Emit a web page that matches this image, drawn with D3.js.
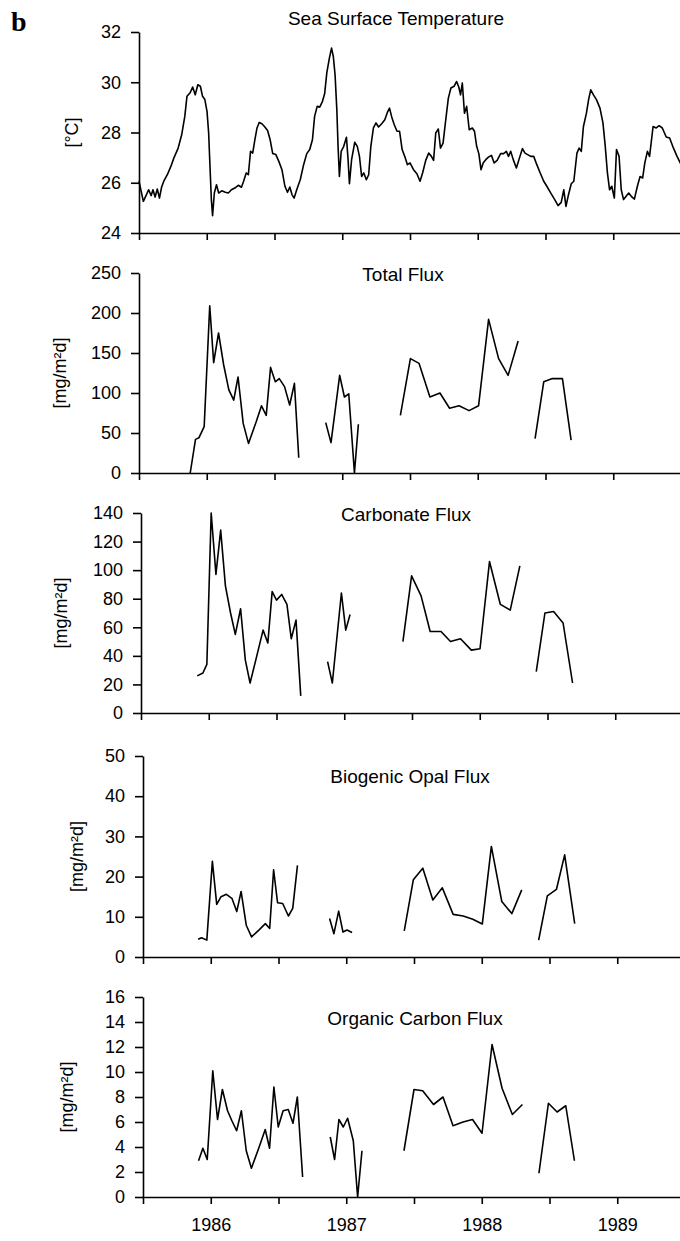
<!DOCTYPE html>
<html lang="en">
<head>
<meta charset="UTF-8">
<script src="https://d3js.org/d3.v7.min.js"></script>
<style>
  body { margin: 0; background: #fff; }
  svg { display: block; font-family: "Liberation Sans", Arial, sans-serif; }
  .axis path, .axis line { stroke: #000; stroke-width: 1.6px; }
  .axis text { font-size: 18px; fill: #000; font-family: "Liberation Sans", Arial, sans-serif; }
  .series { fill: none; stroke: #000; stroke-width: 1.6px; stroke-linejoin: round; }
</style>
</head>
<body>
<svg id="chart" width="680" height="1241"></svg>
<script>
// x ticks every half year, only whole years get a label on the bottom panel
var xTicks = [1985.5, 1986, 1986.5, 1987, 1987.5, 1988, 1988.5, 1989, 1989.5];

// Sea surface temperature (decimal year, deg C)
var sstDate = [1985.500, 1985.532, 1985.555, 1985.571, 1985.590, 1985.603, 1985.619, 1985.635, 1985.651, 1985.667,
  1985.683, 1985.709, 1985.735, 1985.757, 1985.789, 1985.815, 1985.838, 1985.854, 1985.876, 1985.896,
  1985.915, 1985.934, 1985.953, 1985.969, 1985.986, 1986.002, 1986.014, 1986.024, 1986.034, 1986.043,
  1986.056, 1986.072, 1986.088, 1986.111, 1986.137, 1986.159, 1986.182, 1986.207, 1986.233, 1986.256,
  1986.272, 1986.291, 1986.307, 1986.323, 1986.339, 1986.355, 1986.371, 1986.387, 1986.407, 1986.426,
  1986.449, 1986.468, 1986.487, 1986.510, 1986.532, 1986.555, 1986.577, 1986.596, 1986.613, 1986.629,
  1986.645, 1986.664, 1986.690, 1986.715, 1986.738, 1986.760, 1986.780, 1986.796, 1986.815, 1986.834,
  1986.854, 1986.870, 1986.886, 1986.905, 1986.921, 1986.934, 1986.947, 1986.960, 1986.969, 1986.979,
  1986.992, 1987.011, 1987.031, 1987.043, 1987.053, 1987.069, 1987.092, 1987.111, 1987.127, 1987.143,
  1987.159, 1987.178, 1987.195, 1987.211, 1987.230, 1987.249, 1987.268, 1987.291, 1987.314, 1987.333,
  1987.349, 1987.365, 1987.384, 1987.404, 1987.423, 1987.442, 1987.461, 1987.481, 1987.500, 1987.526,
  1987.551, 1987.574, 1987.593, 1987.616, 1987.638, 1987.658, 1987.674, 1987.690, 1987.709, 1987.725,
  1987.744, 1987.764, 1987.783, 1987.802, 1987.825, 1987.844, 1987.860, 1987.873, 1987.886, 1987.902,
  1987.918, 1987.937, 1987.960, 1987.976, 1987.992, 1988.008, 1988.024, 1988.040, 1988.059, 1988.079,
  1988.101, 1988.121, 1988.143, 1988.169, 1988.191, 1988.211, 1988.227, 1988.243, 1988.262, 1988.285,
  1988.304, 1988.330, 1988.349, 1988.368, 1988.391, 1988.413, 1988.436, 1988.461, 1988.487, 1988.510,
  1988.539, 1988.568, 1988.593, 1988.616, 1988.635, 1988.651, 1988.667, 1988.690, 1988.709, 1988.732,
  1988.748, 1988.764, 1988.780, 1988.802, 1988.818, 1988.834, 1988.854, 1988.876, 1988.902, 1988.924,
  1988.941, 1988.957, 1988.973, 1988.989, 1989.008, 1989.024, 1989.043, 1989.059, 1989.076, 1989.095,
  1989.114, 1989.133, 1989.156, 1989.178, 1989.198, 1989.217, 1989.233, 1989.252, 1989.268, 1989.294,
  1989.317, 1989.339, 1989.362, 1989.391, 1989.416, 1989.439, 1989.471, 1989.513];
var sstTemp = [26.06, 25.26, 25.53, 25.72, 25.49, 25.72, 25.43, 25.75, 25.39, 25.83,
  26.06, 26.32, 26.65, 26.98, 27.38, 27.91, 28.64, 29.44, 29.57, 29.81,
  29.50, 29.90, 29.84, 29.44, 29.31, 28.84, 27.98, 26.65, 25.33, 24.69,
  25.59, 25.92, 25.59, 25.68, 25.62, 25.59, 25.72, 25.79, 25.90, 25.82,
  26.06, 26.39, 26.32, 27.25, 27.18, 27.71, 28.18, 28.40, 28.35, 28.24,
  28.08, 27.71, 27.16, 27.12, 26.85, 26.52, 25.86, 25.62, 25.83, 25.53,
  25.39, 25.72, 26.12, 26.72, 27.16, 27.32, 27.71, 28.64, 29.04, 29.01,
  29.24, 29.54, 30.37, 30.96, 31.36, 31.03, 30.30, 28.91, 27.45, 26.25,
  27.25, 27.45, 27.81, 26.92, 25.96, 26.92, 27.61, 27.45, 27.05, 26.25,
  26.39, 26.12, 26.32, 27.45, 28.18, 28.38, 28.22, 28.35, 28.51, 28.80,
  28.97, 28.62, 28.31, 28.05, 28.05, 27.32, 27.05, 26.72, 26.79, 26.52,
  26.36, 26.06, 26.39, 26.89, 27.18, 27.05, 26.89, 27.98, 28.14, 27.38,
  27.58, 28.51, 29.37, 29.77, 29.84, 30.03, 29.81, 29.50, 29.97, 28.77,
  29.04, 28.11, 28.18, 28.05, 27.45, 27.16, 26.52, 26.79, 26.92, 27.02,
  27.09, 26.79, 26.89, 27.16, 27.16, 27.25, 27.05, 27.25, 26.92, 26.59,
  26.92, 27.36, 27.18, 27.12, 27.05, 27.05, 26.72, 26.39, 26.06, 25.86,
  25.59, 25.33, 25.09, 25.22, 25.72, 25.06, 25.46, 25.96, 26.06, 27.18,
  27.38, 27.25, 28.24, 28.77, 29.31, 29.70, 29.50, 29.31, 28.97, 28.38,
  27.45, 26.39, 25.72, 25.86, 25.39, 27.32, 27.05, 25.72, 25.33, 25.46,
  25.59, 25.46, 25.35, 25.86, 26.25, 26.19, 26.79, 27.25, 27.05, 28.24,
  28.18, 28.27, 28.18, 27.82, 27.78, 27.45, 27.05, 26.59];

// sediment trap samples, null = gap between deployments (mg/m2d)
var totalDate = [1985.878, 1985.917, 1985.942, 1985.981, 1986.022, 1986.051, 1986.087, 1986.125, 1986.163, 1986.199,
  1986.231, 1986.269, 1986.308, 1986.365, 1986.404, 1986.439, 1986.471, 1986.506, 1986.535, 1986.574,
  1986.612, 1986.647, 1986.679, null, 1986.878, 1986.917, 1986.981, 1987.016, 1987.048, 1987.090,
  1987.119, null, 1987.429, 1987.503, 1987.567, 1987.647, 1987.721, 1987.792, 1987.862, 1987.936,
  1988.006, 1988.080, 1988.154, 1988.224, 1988.298, null, 1988.423, 1988.487, 1988.551, 1988.625, 1988.689];
var totalFlux = [0, 42, 44, 58, 209, 138, 175, 135, 104, 91,
  120, 62, 37, 64, 84, 72, 132, 114, 118, 108,
  85, 112, 19, null, 63, 38, 122, 95, 99, 0,
  61, null, 72, 143, 137, 95, 100, 81, 84, 78,
  84, 192, 143, 122, 165, null, 43, 114, 118, 118, 41];

var carbDate = [1985.915, 1985.957, 1985.986, 1986.018, 1986.053, 1986.088, 1986.123, 1986.161, 1986.196, 1986.235,
  1986.270, 1986.305, 1986.347, 1986.401, 1986.436, 1986.468, 1986.500, 1986.538, 1986.577, 1986.609,
  1986.644, 1986.679, null, 1986.877, 1986.912, 1986.979, 1987.011, 1987.043, null, 1987.433,
  1987.497, 1987.567, 1987.634, 1987.714, 1987.784, 1987.858, 1987.938, 1988.002, 1988.072, 1988.152,
  1988.225, 1988.296, null, 1988.417, 1988.481, 1988.545, 1988.615, 1988.685];
var carbFlux = [26, 28, 34, 140, 97, 128, 89, 70, 55, 73,
  37, 21, 37, 58, 49, 85, 79, 83, 76, 52,
  65, 12, null, 36, 21, 84, 58, 69, null, 50,
  96, 82, 57, 57, 50, 52, 44, 45, 106, 76,
  72, 103, null, 29, 70, 71, 63, 21];

var opalDate = [1985.907, 1985.932, 1985.971, 1986.012, 1986.044, 1986.076, 1986.115, 1986.156, 1986.192, 1986.224,
  1986.262, 1986.301, 1986.355, 1986.403, 1986.435, 1986.464, 1986.493, 1986.531, 1986.573, 1986.605,
  1986.640, null, 1986.877, 1986.909, 1986.944, 1986.976, 1987.005, 1987.043, null, 1987.428,
  1987.495, 1987.565, 1987.639, 1987.709, 1987.789, 1987.863, 1987.934, 1988.004, 1988.071, 1988.148,
  1988.222, 1988.295, null, 1988.420, 1988.484, 1988.551, 1988.612, 1988.686];
var opalFlux = [4.4, 4.8, 4.2, 23.8, 13.1, 15.0, 15.6, 14.6, 11.3, 16.3,
  7.9, 5.0, 6.7, 8.3, 7.1, 21.7, 13.5, 13.3, 10.2, 12.1,
  22.8, null, 9.6, 5.8, 11.4, 6.2, 6.7, 6.1, null, 6.5,
  19.2, 22.1, 14.2, 17.2, 10.6, 10.2, 9.4, 8.2, 27.5, 13.8,
  10.8, 16.7, null, 4.2, 15.2, 16.8, 25.4, 8.3];

var orgDate = [1985.910, 1985.942, 1985.974, 1986.015, 1986.050, 1986.086, 1986.124, 1986.156, 1986.191, 1986.226,
  1986.262, 1986.300, 1986.354, 1986.402, 1986.434, 1986.466, 1986.498, 1986.534, 1986.572, 1986.607,
  1986.639, 1986.678, null, 1986.882, 1986.914, 1986.946, 1986.978, 1987.010, 1987.052, 1987.084,
  1987.116, null, 1987.426, 1987.500, 1987.564, 1987.644, 1987.714, 1987.788, 1987.862, 1987.932,
  1988.002, 1988.076, 1988.150, 1988.226, 1988.300, null, 1988.422, 1988.492, 1988.556, 1988.620, 1988.684];
var orgFlux = [2.9, 3.9, 3.0, 10.1, 6.2, 8.6, 6.9, 6.1, 5.3, 6.9,
  3.7, 2.3, 3.9, 5.4, 3.9, 8.8, 5.6, 6.9, 7.0, 5.9,
  8.0, 1.6, null, 4.8, 3.0, 6.2, 5.6, 6.3, 4.5, 0,
  3.7, null, 3.7, 8.6, 8.5, 7.4, 8.0, 5.7, 6.0, 6.2,
  5.1, 12.2, 8.7, 6.6, 7.4, null, 1.9, 7.5, 6.8, 7.3, 2.9];

var titles = ["Sea Surface Temperature", "Total Flux", "Carbonate Flux", "Biogenic Opal Flux", "Organic Carbon Flux"];
var units = ["[°C]", "[mg/m²d]", "[mg/m²d]", "[mg/m²d]", "[mg/m²d]"];
var yTicks = [
  [24, 26, 28, 30, 32],
  [0, 50, 100, 150, 200, 250],
  [0, 20, 40, 60, 80, 100, 120, 140],
  [0, 10, 20, 30, 40, 50],
  [0, 2, 4, 6, 8, 10, 12, 14, 16]
];

// layout of each panel (pixels)
var panels = [
  { dates: sstDate,   vals: sstTemp,   top: 32,  bottom: 233,  left: 139, labelX: 72, titleX: 396, titleY: 25 },
  { dates: totalDate, vals: totalFlux, top: 273, bottom: 473,  left: 139, labelX: 60, titleX: 403, titleY: 281 },
  { dates: carbDate,  vals: carbFlux,  top: 513, bottom: 713,  left: 141, labelX: 61, titleX: 406, titleY: 521 },
  { dates: opalDate,  vals: opalFlux,  top: 756, bottom: 957,  left: 143, labelX: 77, titleX: 410, titleY: 783 },
  { dates: orgDate,   vals: orgFlux,   top: 997, bottom: 1197, left: 143, labelX: 67, titleX: 415, titleY: 1025 }
];

var svg = d3.select("#chart");

// panel letter
svg.append("text")
  .attr("x", 11)
  .attr("y", 31)
  .style("font-family", "'Liberation Serif', 'Times New Roman', serif")
  .style("font-weight", "bold")
  .style("font-size", "28px")
  .text("b");

panels.forEach(function(p, i) {
  var ticks = yTicks[i];
  var x = d3.scaleLinear()
    .domain([xTicks[0], xTicks[xTicks.length - 1]])
    .range([p.left, p.left + 542]);
  var y = d3.scaleLinear()
    .domain([ticks[0], ticks[ticks.length - 1]])
    .range([p.bottom, p.top]);

  var last = i === panels.length - 1;

  // x axis
  svg.append("g")
    .attr("class", "axis")
    .attr("transform", "translate(0," + p.bottom + ")")
    .call(d3.axisBottom(x)
      .tickValues(xTicks)
      .tickSize(7)
      .tickSizeOuter(0)
      .tickPadding(14)
      .tickFormat(function(d) { return last && Number.isInteger(d) ? String(d) : ""; }));

  // y axis
  svg.append("g")
    .attr("class", "axis")
    .attr("transform", "translate(" + p.left + ",0)")
    .call(d3.axisLeft(y)
      .tickValues(ticks)
      .tickSize(8)
      .tickSizeOuter(0)
      .tickPadding(10));

  // unit label
  svg.append("text")
    .attr("transform", "translate(" + p.labelX + "," + ((p.top + p.bottom) / 2) + ") rotate(-90)")
    .attr("text-anchor", "middle")
    .attr("dominant-baseline", "central")
    .style("font-size", "18px")
    .text(units[i]);

  // panel title
  svg.append("text")
    .attr("x", p.titleX)
    .attr("y", p.titleY)
    .attr("text-anchor", "middle")
    .style("font-size", "19px")
    .text(titles[i]);

  var pts = p.dates.map(function(d, k) { return [d, p.vals[k]]; });
  var line = d3.line()
    .defined(function(d) { return d[1] != null; })
    .x(function(d) { return x(d[0]); })
    .y(function(d) { return y(d[1]); });

  svg.append("path")
    .datum(pts)
    .attr("class", "series")
    .attr("d", line);
});
</script>
</body>
</html>
